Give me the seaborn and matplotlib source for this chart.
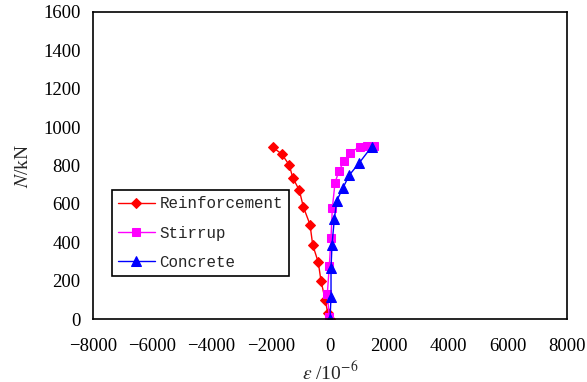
import matplotlib
matplotlib.use("Agg")
import matplotlib.pyplot as plt
import seaborn as sns
import pandas as pd

# strain (10^-6) vs axial load N (kN)
reinf_strain = [0, -78, -159, -304, -395, -584, -675, -901, -1036, -1259, -1374, -1630, -1934]
reinf_load = [0, 31, 99, 198, 295, 386, 492, 585, 671, 737, 802, 860, 895]

stirrup_strain = [-24, -91, -24, 34, 78, 169, 304, 483, 675, 1012, 1239, 1485]
stirrup_load = [10, 130, 278, 424, 577, 710, 773, 825, 867, 898, 903, 903]

concrete_strain = [0, 34, 34, 67, 145, 226, 429, 651, 989, 1407]
concrete_load = [0, 116, 264, 386, 520, 616, 681, 750, 814, 898]

x_ticks = [-8000, -6000, -4000, -2000, 0, 2000, 4000, 6000, 8000]
y_ticks = [0, 200, 400, 600, 800, 1000, 1200, 1400, 1600]

sns.set_style("white")
plt.rcParams["font.family"] = ["Liberation Serif", "DejaVu Serif"]
plt.rcParams["mathtext.fontset"] = "stix"

fig = plt.figure(figsize=(5.87, 3.82), dpi=100)
ax = fig.add_axes([0.1584, 0.1649, 0.8076, 0.8037])

series = [
    ("Reinforcement", reinf_strain, reinf_load, "#FF0000", "D", 5),
    ("Stirrup", stirrup_strain, stirrup_load, "#FF00FF", "s", 6),
    ("Concrete", concrete_strain, concrete_load, "#0000FF", "^", 7),
]
for name, xs, ys, col, mk, ms in series:
    df = pd.DataFrame({"strain": xs, "load": ys})
    sns.lineplot(data=df, x="strain", y="load", sort=False, estimator=None,
                 color=col, marker=mk, markersize=ms, markeredgecolor=col,
                 linewidth=1.0, label=name, ax=ax)

ax.set_xlim(-8000, 8000)
ax.set_ylim(0, 1600)
ax.set_xticks(x_ticks)
ax.set_yticks(y_ticks)
ax.tick_params(direction="in", length=4, width=1, labelsize=13.5, colors="black")
ax.tick_params(axis="x", pad=14)
ax.tick_params(axis="y", pad=9)
for sp in ax.spines.values():
    sp.set_linewidth(1.2)
    sp.set_color("black")

ax.set_xlabel(r"$\varepsilon$ /10$^{-6}$", fontsize=14, labelpad=4)
ax.set_ylabel(r"$N$/kN", fontsize=14, labelpad=8)

leg = ax.legend(loc="upper left", bbox_to_anchor=(0.04, 0.42), frameon=True,
                fancybox=False, edgecolor="black", framealpha=1,
                prop={"family": "Liberation Mono", "size": 11.4},
                handlelength=2.3, handletextpad=0.3, labelspacing=0.9,
                borderpad=0.4, borderaxespad=0)
leg.get_frame().set_linewidth(1.2)

fig.savefig("out.png", dpi=100)
